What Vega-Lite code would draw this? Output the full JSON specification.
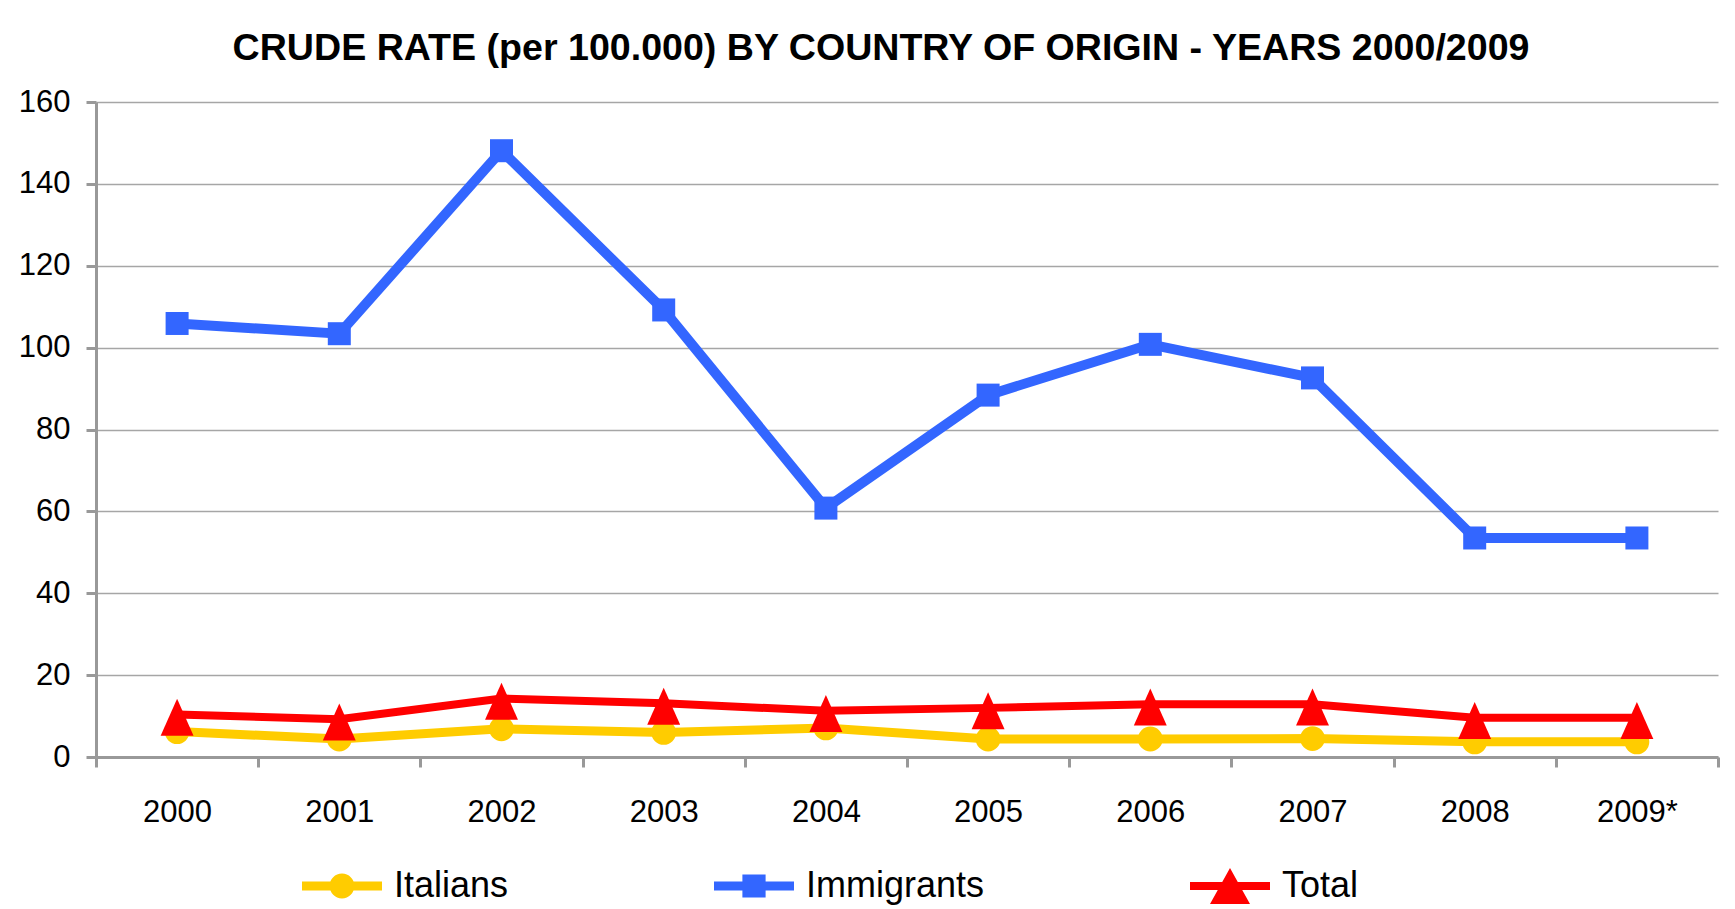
{
  "$schema": "https://vega.github.io/schema/vega-lite/v6.json",
  "width": 1622,
  "height": 655,
  "autosize": "none",
  "padding": {"left": 96, "top": 102, "right": 17, "bottom": 152},
  "background": "white",
  "config": {"view": {"stroke": null}, "font": "Liberation Sans"},
  "title": {
    "text": "CRUDE RATE (per 100.000) BY COUNTRY OF ORIGIN - YEARS 2000/2009",
    "font": "Liberation Sans",
    "fontSize": 37.6,
    "fontWeight": "bold",
    "color": "black",
    "anchor": "middle",
    "frame": "group",
    "baseline": "alphabetic",
    "offset": 40,
    "dx": -26,
    "dy": 52
  },
  "data": {
    "values": [
      {"series": "Italians", "year": "2000", "rate": 6.2},
      {"series": "Italians", "year": "2001", "rate": 4.4},
      {"series": "Italians", "year": "2002", "rate": 6.9},
      {"series": "Italians", "year": "2003", "rate": 6.0},
      {"series": "Italians", "year": "2004", "rate": 7.1},
      {"series": "Italians", "year": "2005", "rate": 4.4},
      {"series": "Italians", "year": "2006", "rate": 4.4},
      {"series": "Italians", "year": "2007", "rate": 4.5},
      {"series": "Italians", "year": "2008", "rate": 3.7},
      {"series": "Italians", "year": "2009*", "rate": 3.7},
      {"series": "Immigrants", "year": "2000", "rate": 105.9},
      {"series": "Immigrants", "year": "2001", "rate": 103.4},
      {"series": "Immigrants", "year": "2002", "rate": 148.1},
      {"series": "Immigrants", "year": "2003", "rate": 109.2},
      {"series": "Immigrants", "year": "2004", "rate": 60.8},
      {"series": "Immigrants", "year": "2005", "rate": 88.4},
      {"series": "Immigrants", "year": "2006", "rate": 100.8},
      {"series": "Immigrants", "year": "2007", "rate": 92.6},
      {"series": "Immigrants", "year": "2008", "rate": 53.5},
      {"series": "Immigrants", "year": "2009*", "rate": 53.5},
      {"series": "Total", "year": "2000", "rate": 10.4},
      {"series": "Total", "year": "2001", "rate": 9.2},
      {"series": "Total", "year": "2002", "rate": 14.3},
      {"series": "Total", "year": "2003", "rate": 13.1},
      {"series": "Total", "year": "2004", "rate": 11.3},
      {"series": "Total", "year": "2005", "rate": 12.0},
      {"series": "Total", "year": "2006", "rate": 12.9},
      {"series": "Total", "year": "2007", "rate": 12.9},
      {"series": "Total", "year": "2008", "rate": 9.6},
      {"series": "Total", "year": "2009*", "rate": 9.6}
    ]
  },
  "encoding": {
    "x": {
      "field": "year",
      "type": "ordinal",
      "sort": null,
      "scale": {"type": "band", "paddingInner": 0, "paddingOuter": 0},
      "axis": {
        "title": null,
        "labelAngle": 0,
        "labelFont": "Liberation Sans",
        "labelFontSize": 31,
        "labelColor": "black",
        "labelPadding": 30,
        "tickBand": "extent",
        "tickSize": 10,
        "tickWidth": 3,
        "tickColor": "#999999",
        "domainColor": "#999999",
        "domainWidth": 3,
        "grid": false
      }
    },
    "y": {
      "field": "rate",
      "type": "quantitative",
      "scale": {"domain": [0, 160], "nice": false},
      "axis": {
        "title": null,
        "values": [0, 20, 40, 60, 80, 100, 120, 140, 160],
        "labelFont": "Liberation Sans",
        "labelFontSize": 31,
        "labelColor": "black",
        "labelPadding": 16,
        "tickSize": 10,
        "tickWidth": 3,
        "tickColor": "#999999",
        "domainColor": "#999999",
        "domainWidth": 3,
        "grid": true,
        "gridColor": "#a6a6a6",
        "gridWidth": 1.5
      }
    },
    "color": {
      "field": "series",
      "type": "nominal",
      "sort": ["Italians", "Immigrants", "Total"],
      "scale": {"domain": ["Italians", "Immigrants", "Total"], "range": ["#FFCC00", "#3366FF", "#FF0000"]},
      "legend": {
        "orient": "none",
        "legendX": 206,
        "legendY": 744,
        "direction": "horizontal",
        "title": null,
        "labelFont": "Liberation Sans",
        "labelFontSize": 36,
        "labelColor": "black",
        "labelOffset": 12,
        "labelLimit": 600,
        "symbolSize": 6400,
        "columnPadding": 205,
        "padding": 0,
        "symbolStrokeWidth": 0,
        "symbolOpacity": 1
      }
    }
  },
  "layer": [
    {
      "mark": {"type": "point", "filled": true, "opacity": 0, "size": 6400},
      "encoding": {
        "shape": {
          "field": "series",
          "type": "nominal",
          "sort": ["Italians", "Immigrants", "Total"],
          "scale": {
            "domain": ["Italians", "Immigrants", "Total"],
            "range": [
              "M-1,-0.11H1V0.11H-1Z M-0.31,0A0.31,0.31 0 1,1 0.31,0A0.31,0.31 0 1,1 -0.31,0Z",
              "M-1,-0.11H1V0.11H-1Z M-0.29,-0.29H0.29V0.29H-0.29Z",
              "M-1,-0.1H1V0.1H-1Z M0,-0.45L0.5,0.45L-0.5,0.45Z"
            ]
          },
          "legend": {
            "orient": "none",
            "legendX": 206,
            "legendY": 744,
            "direction": "horizontal",
            "title": null,
            "labelFont": "Liberation Sans",
            "labelFontSize": 36,
            "labelColor": "black",
            "labelOffset": 12,
            "labelLimit": 600,
            "symbolSize": 6400,
            "columnPadding": 205,
            "padding": 0,
            "symbolStrokeWidth": 0,
            "symbolOpacity": 1
          }
        }
      }
    },
    {
      "transform": [{"filter": "datum.series === 'Italians'"}],
      "mark": {"type": "line", "strokeWidth": 9}
    },
    {
      "transform": [{"filter": "datum.series === 'Italians'"}],
      "mark": {"type": "point", "filled": true, "opacity": 1, "shape": "circle", "size": 616}
    },
    {
      "transform": [{"filter": "datum.series === 'Immigrants'"}],
      "mark": {"type": "line", "strokeWidth": 10}
    },
    {
      "transform": [{"filter": "datum.series === 'Immigrants'"}],
      "mark": {"type": "point", "filled": true, "opacity": 1, "shape": "square", "size": 529}
    },
    {
      "transform": [{"filter": "datum.series === 'Total'"}],
      "mark": {"type": "line", "strokeWidth": 8}
    },
    {
      "transform": [{"filter": "datum.series === 'Total'"}],
      "mark": {"type": "point", "filled": true, "opacity": 1, "shape": "M0,-0.85L0.89,1.15L-0.89,1.15Z", "size": 1369}
    }
  ]
}
